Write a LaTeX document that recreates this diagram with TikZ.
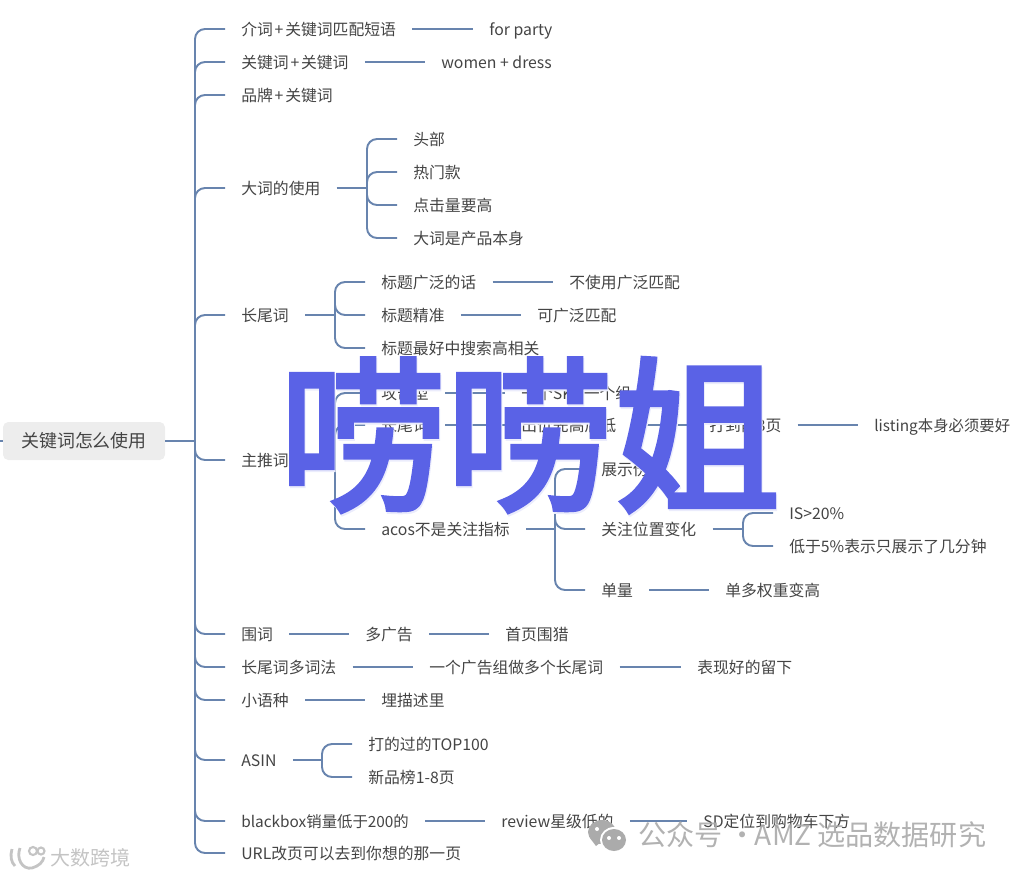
\documentclass[tikz,border=0pt]{standalone}
\usepackage{fontspec}
\setmainfont{Noto Sans CJK SC}
\newfontfamily\bigFont[FakeBold=3]{Noto Sans CJK SC}
\definecolor{linkBlue}{HTML}{6884AE}
\definecolor{textGray}{HTML}{444444}
\definecolor{markBlue}{HTML}{5A62E6}
\definecolor{markGray}{HTML}{ABABAB}
\definecolor{shopGray}{HTML}{C4C4C4}
\newcommand{\plusKey}{\kern1pt+\kern1pt}
\begin{document}
\begin{tikzpicture}[x=0.02cm, y=-0.02cm,
    item/.style={anchor=west, text=textGray, font=\fontsize{9}{11}\selectfont, inner xsep=9.1pt, inner ysep=0pt, text height=8.6pt, text depth=1.5pt},
    tight/.style={font=\fontsize{8.75}{11}\selectfont},
    link/.style={draw=linkBlue, line width=1.1pt},
    branch/.style={link, rounded corners=5.7pt},
    root/.style={fill=black!7, rounded corners=3pt, text=textGray, font=\fontsize{10.2}{12}\selectfont, minimum width=162*0.02cm, minimum height=38*0.02cm, inner sep=0pt},
    bigMark/.style={text=markBlue, font=\fontsize{95}{95}\selectfont\bigFont, inner sep=0pt},
    wechatMark/.style={text=markGray, font=\fontsize{16}{18}\selectfont, inner sep=0pt, anchor=west},
    shopMark/.style={text=shopGray, font=\fontsize{11.4}{13}\selectfont, inner sep=0pt, anchor=west}]
    \useasboundingbox (0, 0) rectangle (1018, 877);

    \node[root] at (84, 441) (root) {关键词怎么使用};
    \coordinate (rootIn) at (0, 441);
    \coordinate (hub) at (195, 441);

    \node[item] at (225, 29) (prep) {介词\plusKey 关键词匹配短语};
    \node[item] at (473, 29) (prepEx) {for party};
    \node[item] at (225, 62) (pair) {关键词\plusKey 关键词};
    \node[item] at (425, 62) (pairEx) {women + dress};
    \node[item] at (225, 95) (brand) {品牌\plusKey 关键词};

    \node[item] at (225, 188) (big) {大词的使用};
    \coordinate (bigHub) at (367, 188);
    \node[item] at (397, 139) (big1) {头部};
    \node[item] at (397, 172) (big2) {热门款};
    \node[item] at (397, 205) (big3) {点击量要高};
    \node[item] at (397, 238) (big4) {大词是产品本身};

    \node[item] at (225, 315) (tail) {长尾词};
    \coordinate (tailHub) at (335, 315);
    \node[item] at (365, 282) (tail1) {标题广泛的话};
    \node[item] at (553, 282) (tail1Ex) {不使用广泛匹配};
    \node[item] at (365, 315) (tail2) {标题精准};
    \node[item] at (521, 315) (tail2Ex) {可广泛匹配};
    \node[item] at (365, 348) (tail3) {标题最好中搜索高相关};

    \node[item] at (225, 460) (main) {主推词};
    \coordinate (mainHub) at (335, 460);
    \node[item] at (365, 393) (main1) {攻击型};
    \node[item] at (505, 393) (main1Ex) {一个SKU一个组};
    \node[item] at (365, 425) (main2) {长尾词};
    \node[item] at (505, 425) (main2A) {出价先高后低};
    \node[item] at (693, 425) (main2B) {打到前3页};
    \node[item, tight] at (858, 425) (main2C) {listing本身必须要好};
    \node[item] at (365, 529) (main3) {acos不是关注指标};
    \coordinate (acosHub) at (555, 529);
    \node[item] at (585, 469) (acos1) {展示份额};
    \node[item] at (585, 529) (acos2) {关注位置变化};
    \coordinate (posHub) at (743, 529);
    \node[item] at (773, 513) (pos1) {IS>20\%};
    \node[item] at (773, 546) (pos2) {低于5\%表示只展示了几分钟};
    \node[item] at (585, 590) (acos3) {单量};
    \node[item] at (709, 590) (acos3Ex) {单多权重变高};

    \node[item] at (225, 634) (fence) {围词};
    \node[item] at (349, 634) (fenceA) {多广告};
    \node[item] at (489, 634) (fenceB) {首页围猎};
    \node[item] at (225, 667) (multi) {长尾词多词法};
    \node[item] at (413, 667) (multiA) {一个广告组做多个长尾词};
    \node[item] at (681, 667) (multiB) {表现好的留下};
    \node[item] at (225, 700) (minor) {小语种};
    \node[item] at (365, 700) (minorEx) {埋描述里};

    \node[item] at (225, 760) (asin) {ASIN};
    \coordinate (asinHub) at (322, 760);
    \node[item] at (352, 744) (asin1) {打的过的TOP100};
    \node[item] at (352, 777) (asin2) {新品榜1-8页};

    \node[item, tight] at (225, 821) (black) {blackbox销量低于200的};
    \node[item] at (485, 821) (blackA) {review星级低的};
    \node[item] at (687, 821) (blackB) {SD定位到购物车下方};
    \node[item] at (225, 853) (url) {URL改页可以去到你想的那一页};

    \draw[link] (rootIn) -- (root);
    \draw[link, line width=1.6pt] (root) -- (hub);
    \foreach \kid in {prep, pair, brand, big, tail, main, fence, multi, minor, asin, black, url}
        \draw[branch] (hub) |- (\kid);

    \draw[link] (prep) -- (prepEx);
    \draw[link] (pair) -- (pairEx);

    \draw[link] (big) -- (bigHub);
    \foreach \kid in {big1, big2, big3, big4}
        \draw[branch] (bigHub) |- (\kid);

    \draw[link] (tail) -- (tailHub);
    \foreach \kid in {tail1, tail2, tail3}
        \draw[branch] (tailHub) |- (\kid);
    \draw[link] (tail1) -- (tail1Ex);
    \draw[link] (tail2) -- (tail2Ex);

    \draw[link] (main) -- (mainHub);
    \foreach \kid in {main1, main2, main3}
        \draw[branch] (mainHub) |- (\kid);
    \draw[link] (main1) -- (main1Ex);
    \draw[link] (main2) -- (main2A);
    \draw[link] (main2A) -- (main2B);
    \draw[link] (main2B) -- (main2C);

    \draw[link] (main3) -- (acosHub);
    \foreach \kid in {acos1, acos2, acos3}
        \draw[branch] (acosHub) |- (\kid);
    \draw[link] (acos2) -- (posHub);
    \foreach \kid in {pos1, pos2}
        \draw[branch] (posHub) |- (\kid);
    \draw[link] (acos3) -- (acos3Ex);

    \draw[link] (fence) -- (fenceA);
    \draw[link] (fenceA) -- (fenceB);
    \draw[link] (multi) -- (multiA);
    \draw[link] (multiA) -- (multiB);
    \draw[link] (minor) -- (minorEx);

    \draw[link] (asin) -- (asinHub);
    \foreach \kid in {asin1, asin2}
        \draw[branch] (asinHub) |- (\kid);

    \draw[link] (black) -- (blackA);
    \draw[link] (blackA) -- (blackB);

    \node[bigMark, text=markBlue!12] at (531, 437) (bigShade) {唠唠姐};
    \node[bigMark] at (530, 435) (bigWord) {唠唠姐};

    \fill[markGray] (602, 832) ellipse (14 and 12);
    \fill[markGray] (596, 846) -- (601, 842) -- (590, 838) -- cycle;
    \fill[white] (614, 840) ellipse (14 and 13);
    \fill[markGray] (614, 840) ellipse (12 and 11);
    \fill[white] (609, 838) circle (2);
    \fill[white] (619, 838) circle (2);
    \fill[white] (597, 829) circle (2);
    \node[wechatMark, opacity=.92] at (638, 835) (wechatWord) {公众号 ·\kern-4.8pt\ AMZ\kern3.2pt 选品数据研究};

    \node[shopMark] at (50, 858) (shopWord) {大数跨境};
    \draw[shopGray, line width=1.6pt] (20, 848) .. controls (16, 858) and (22, 870) .. (32, 868) .. controls (39, 866) and (43, 862) .. (44, 857);
    \draw[shopGray, line width=1.6pt] (12, 849) .. controls (10, 856) and (11, 862) .. (15, 866);
    \draw[shopGray, line width=1.2pt] (33, 851) circle (4);
    \draw[shopGray, line width=1.2pt] (41, 851) circle (3.5);
\end{tikzpicture}
\end{document}
